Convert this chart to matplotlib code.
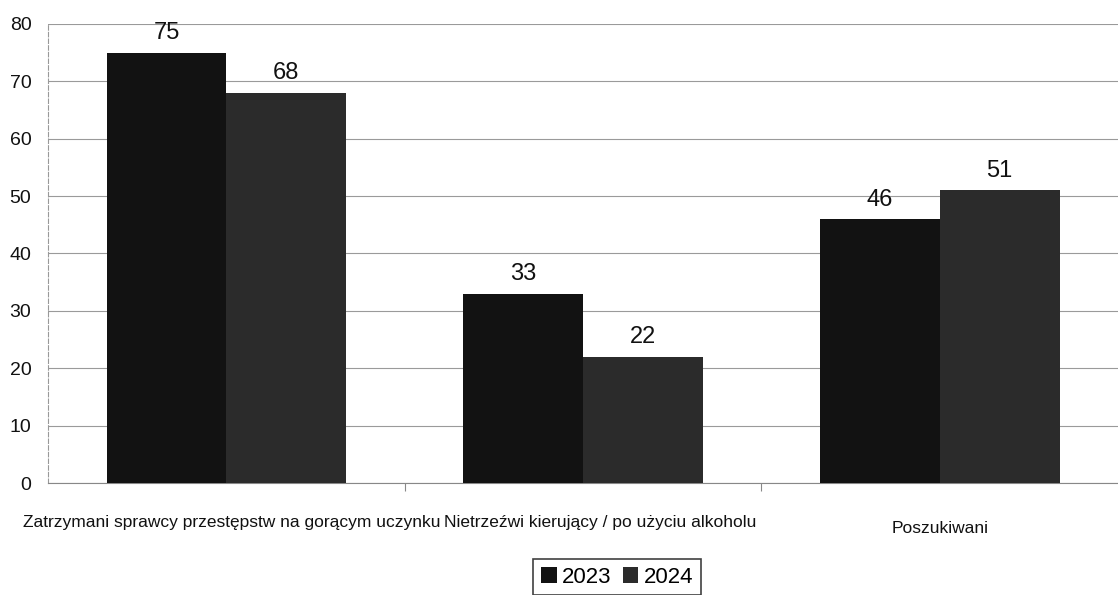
import matplotlib.pyplot as plt
import numpy as np

# Datos
kategorie = ['Zatrzymani sprawcy przestępstw na gorącym uczynku',
             'Nietrzeźwi kierujący / po użyciu alkoholu',
             'Poszukiwani']
wartosci_2023 = [75, 33, 46]
wartosci_2024 = [68, 22, 51]
lata = ['2023', '2024']

plt.rcParams['font.family'] = ['Liberation Sans', 'DejaVu Sans']

fig = plt.figure(figsize=(11.18, 5.95), dpi=100)
ax = fig.add_axes([0.043, 0.188, 0.957, 0.772])

x = np.arange(len(kategorie))
szer = 0.336
b1 = ax.bar(x - szer / 2, wartosci_2023, szer, color='#121212', label=lata[0], zorder=3)
b2 = ax.bar(x + szer / 2, wartosci_2024, szer, color='#2b2b2b', label=lata[1], zorder=3)

for bars in (b1, b2):
    for b in bars:
        ax.annotate(str(int(b.get_height())), (b.get_x() + b.get_width() / 2, b.get_height()),
                    xytext=(0, 6), textcoords='offset points', ha='center', va='bottom',
                    fontsize=17, color='#111111')

ax.set_xlim(-0.5, 2.5)
ax.set_ylim(0, 80)
ax.set_yticks(range(0, 81, 10))
ax.tick_params(axis='y', length=0, labelsize=14, pad=12, colors='#111111')
ax.set_xticks([0.5, 1.5])
ax.set_xticklabels([])
ax.tick_params(axis='x', length=6, color='#888888', direction='out')
ax.grid(axis='y', color='#9a9a9a', linewidth=0.8, zorder=0)

# Etiquetas de categorías (las dos primeras se tocan como en el original)
ax.text(0.6, -6.8, kategorie[0], ha='right', va='center', fontsize=12.5,
        color='#111111', transform=ax.transData)
ax.text(0.61, -6.8, kategorie[1], ha='left', va='center', fontsize=12.5,
        color='#111111', transform=ax.transData)
ax.text(2, -7.9, kategorie[2], ha='center', va='center', fontsize=12.5,
        color='#111111', transform=ax.transData)

for s in ('top', 'right'):
    ax.spines[s].set_visible(False)
ax.spines['left'].set_color('#999999')
ax.spines['left'].set_linestyle((0, (4, 2)))
ax.spines['bottom'].set_color('#888888')

leg = fig.legend(loc='center', bbox_to_anchor=(0.552, 0.03), ncol=2, fontsize=16,
                 frameon=True, fancybox=False, handlelength=0.7, handleheight=0.7,
                 handletextpad=0.25, columnspacing=0.5, borderpad=0.35)
leg.get_frame().set_edgecolor('#111111')
leg.get_frame().set_linewidth(1.2)

fig.savefig('out.png', dpi=100)
plt.close(fig)
